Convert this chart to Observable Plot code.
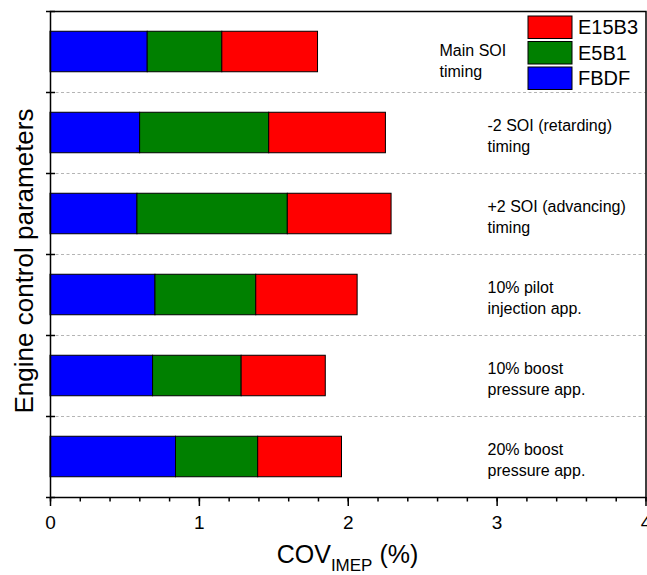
<!DOCTYPE html>
<html>
<head>
<meta charset="utf-8">
<script src="https://cdn.jsdelivr.net/npm/d3@7"></script>
<script src="https://cdn.jsdelivr.net/npm/@observablehq/plot@0.6"></script>
<style>
  html, body { margin: 0; padding: 0; background: #fff; }
  #chart { width: 647px; height: 575px; overflow: hidden; }
  svg { font-family: "Liberation Sans", Arial, sans-serif; }
</style>
</head>
<body>
<div id="chart"></div>
<script>
// ---- data ----
const categories = [
  "Main SOI timing",
  "-2 SOI (retarding) timing",
  "+2 SOI (advancing) timing",
  "10% pilot injection app.",
  "10% boost pressure app.",
  "20% boost pressure app."
];
const rowLabels = [
  "Main SOI\ntiming",
  "-2 SOI (retarding)\ntiming",
  "+2 SOI (advancing)\ntiming",
  "10% pilot\ninjection app.",
  "10% boost\npressure app.",
  "20% boost\npressure app."
];
const seriesNames = ["FBDF", "E5B1", "E15B3"];
const seriesColors = ["#0000ff", "#008000", "#ff0000"];
const FBDF  = [0.653, 0.602, 0.584, 0.705, 0.689, 0.843];
const E5B1  = [0.501, 0.867, 1.010, 0.677, 0.595, 0.552];
const E15B3 = [0.643, 0.784, 0.697, 0.681, 0.565, 0.563];
const xMajorTicks = [0, 1, 2, 3, 4];
const xMinorTicks = [0, 0.2, 0.4, 0.6, 0.8, 1, 1.2, 1.4, 1.6, 1.8, 2, 2.2, 2.4, 2.6, 2.8, 3, 3.2, 3.4, 3.6, 3.8, 4];
const xLabelMain = "COV", xLabelSub = "IMEP", xLabelTail = " (%)";
const yLabel = "Engine control parameters";

// ---- build stacked table ----
const seriesValues = [FBDF, E5B1, E15B3];
const rows = [];
categories.forEach((c, i) => {
  let acc = 0;
  seriesValues.forEach((vals, s) => {
    rows.push({category: c, row: i, series: seriesNames[s], x1: acc, x2: acc + vals[i]});
    acc += vals[i];
  });
});
const boundaries = d3.range(categories.length + 1);

const hline = {
  draw(ctx, size) {
    const r = Math.sqrt(size / Math.PI);
    ctx.moveTo(-r, 0);
    ctx.lineTo(r, 0);
  }
};

const font = "Liberation Sans, Arial, sans-serif";

const chart = Plot.plot({
  width: 647,
  height: 575,
  marginLeft: 50,
  marginRight: 1.5,
  marginTop: 11,
  marginBottom: 78,
  style: {fontFamily: font, background: "white", overflow: "visible"},
  x: {domain: [0, 4], label: null},
  y: {domain: [0, categories.length], reverse: true, label: null, axis: null},
  color: {domain: seriesNames, range: seriesColors},
  marks: [
    Plot.ruleY(boundaries.slice(1, -1), {stroke: "#b4b4b4", strokeDasharray: "3,2.5", strokeWidth: 1}),
    Plot.rectX(rows, {
      x1: "x1", x2: "x2",
      y1: d => d.row + 0.25, y2: d => d.row + 0.75,
      fill: "series", stroke: "black", strokeWidth: 1
    }),
    Plot.text(rowLabels.slice(1), {
      y: (d, i) => i + 1.5, text: d => d,
      frameAnchor: "left", dx: 437, dy: 2, textAnchor: "start",
      lineHeight: 1.28, fontSize: 16, fill: "black"
    }),
    Plot.text(rowLabels.slice(0, 1), {
      y: 0.5, text: d => d,
      frameAnchor: "left", dx: 389, dy: 7.5, textAnchor: "start",
      lineHeight: 1.35, fontSize: 16, fill: "black"
    }),
    Plot.axisX({ticks: xMinorTicks, tickSize: 4.5, tickFormat: () => "", strokeWidth: 1.5, label: null}),
    Plot.axisX({ticks: xMajorTicks, tickSize: 9, tickPadding: 9, fontSize: 19, strokeWidth: 1.5,
      tickFormat: d3.format("d"), label: null, fill: "black"}),
    Plot.dot(boundaries, {y: d => d, frameAnchor: "left", symbol: hline, r: 4.5, stroke: "black", strokeWidth: 1.5}),
    Plot.frame({stroke: "black", strokeWidth: 1.5})
  ]
});

document.getElementById("chart").appendChild(chart);

// ---- axis titles and legend ----
const svg = d3.select(chart);
const xt = svg.append("text")
  .attr("x", 347.5).attr("y", 563)
  .attr("text-anchor", "middle")
  .attr("font-family", font)
  .attr("font-size", 25)
  .attr("fill", "black");
xt.append("tspan").text(xLabelMain);
xt.append("tspan").attr("font-size", 17).attr("dy", 8).text(xLabelSub);
xt.append("tspan").attr("dy", -8).text(xLabelTail);

svg.append("text")
  .attr("transform", "translate(33,261) rotate(-90)")
  .attr("text-anchor", "middle")
  .attr("font-family", font)
  .attr("font-size", 26)
  .attr("fill", "black")
  .text(yLabel);

const legendOrder = [2, 1, 0];
const lg = svg.append("g");
legendOrder.forEach((s, k) => {
  const y0 = 16 + k * 25.5;
  lg.append("rect")
    .attr("x", 528).attr("y", y0).attr("width", 44).attr("height", 22.5)
    .attr("fill", seriesColors[s]).attr("stroke", "black").attr("stroke-width", 1);
  lg.append("text")
    .attr("x", 578).attr("y", y0 + 11.25).attr("dy", "0.35em")
    .attr("text-anchor", "start")
    .attr("font-family", font).attr("font-size", 20).attr("fill", "black")
    .text(seriesNames[s]);
});
</script>
</body>
</html>
